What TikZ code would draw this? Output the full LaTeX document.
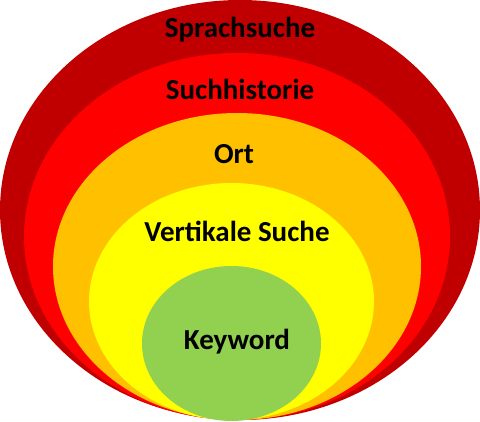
\documentclass[tikz,border=0pt]{standalone}
\usepackage{fontspec}
\setmainfont{Carlito}
\usetikzlibrary{shapes.geometric,positioning}
\definecolor{darkred}{HTML}{C00000}
\definecolor{brightred}{HTML}{FF0000}
\definecolor{amber}{HTML}{FFC000}
\definecolor{lemon}{HTML}{FFFF00}
\definecolor{leaf}{HTML}{92D050}
\tikzset{
ring/.style 2 args={
  ellipse,
  draw=none,
  inner sep=0pt,
  minimum width=#1pt,
  minimum height=#2pt
  },
lbl/.style={
  font=\fontsize{29}{32}\selectfont\bfseries,
  text=black,
  inner sep=0pt
  }
}

\begin{document}
\begin{tikzpicture}[x=1pt,y=-1pt]

\useasboundingbox (0,0) rectangle (480,422);

\node[ring={480}{420},fill=darkred] (sprach) at (240,210) {};
\node[ring={426}{367},fill=brightred] (historie) at (237,236.5) {};
\node[ring={368}{307},fill=amber] (ort) at (237,266.5) {};
\node[ring={285}{237},fill=lemon] (vertikal) at (231.5,301.5) {};
\node[ring={179}{155},fill=leaf] (keyword) at (231.5,343.5) {};

\node[lbl] (tsprach) at (240,30) {Sprachsuche};
\node[lbl] (thistorie) at (240,89) {Suchhistorie};
\node[lbl] (tort) at (234,154) {Ort};
\node[lbl] (tvertikal) at (237,231) {Vertikale Suche};
\node[lbl] (tkeyword) at (237,342) {Keyword};

\end{tikzpicture}
\end{document}
